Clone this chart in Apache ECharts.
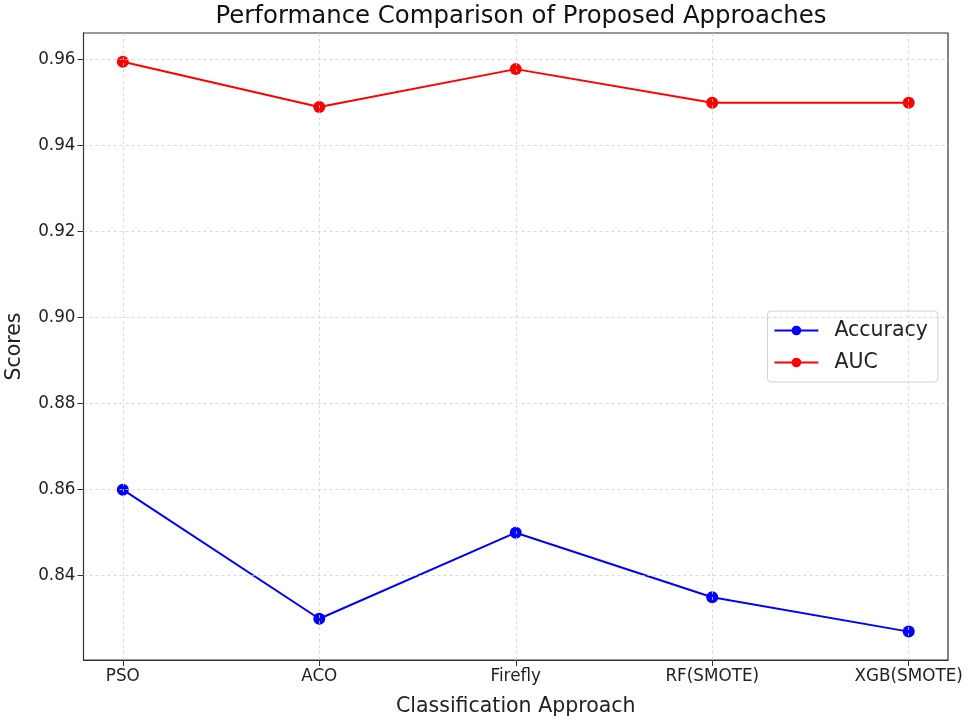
<!DOCTYPE html>
<html><head><meta charset="utf-8">
<script src="https://cdn.jsdelivr.net/npm/echarts@6/dist/echarts.min.js"></script>
<style>html,body{margin:0;padding:0;background:#fff}#c{width:968px;height:724px}</style>
</head><body><div id="c"></div>
<script>
const categories = ['PSO', 'ACO', 'Firefly', 'RF(SMOTE)', 'XGB(SMOTE)'];
const accuracy = [0.860, 0.830, 0.850, 0.835, 0.827];
const auc = [0.9595, 0.949, 0.9578, 0.950, 0.950];
const yTicks = [0.84, 0.86, 0.88, 0.90, 0.92, 0.94, 0.96];

const idx = categories.map((c, i) => i);
const font = 'DejaVu Sans';
const gridStyle = {color: '#d0d0d0', type: [3, 3], width: 0.8};

const chart = echarts.init(document.getElementById('c'));
chart.setOption({
  animation: false,
  textStyle: {fontFamily: font},
  title: {
    text: 'Performance Comparison of Proposed Approaches',
    left: 516, top: 0, textAlign: 'center',
    textStyle: {fontFamily: font, fontSize: 24.4, fontWeight: 'normal', color: '#111'}
  },
  legend: {
    right: 30, top: 311,
    orient: 'vertical',
    itemWidth: 44, itemHeight: 12, itemGap: 11,
    padding: [9, 10, 9, 6],
    borderColor: '#d0d0d0', borderWidth: 1, borderRadius: 4,
    textStyle: {fontFamily: font, fontSize: 20.5, color: '#222', padding: [0, 0, 0, 11]},
    data: ['Accuracy', 'AUC']
  },
  grid: {left: 83.5, right: 20, top: 33, bottom: 64, show: true, borderColor: '#333', borderWidth: 1.2,
         containLabel: false, outerBoundsMode: 'none'},
  xAxis: {
    type: 'value', min: -0.2, max: 4.2,
    name: 'Classification Approach', nameLocation: 'middle', nameGap: 36,
    nameTextStyle: {fontFamily: font, fontSize: 20.5, color: '#222'},
    axisLine: {show: true, onZero: false, lineStyle: {color: '#333'}},
    axisTick: {show: true, customValues: idx, length: 6, lineStyle: {color: '#333'}},
    axisLabel: {customValues: idx, formatter: v => categories[Math.round(v)], fontSize: 16.8, color: '#222', margin: 8, fontFamily: font},
    splitLine: {show: false}
  },
  yAxis: {
    type: 'value', min: 0.8204, max: 0.9662,
    name: 'Scores', nameLocation: 'middle', nameGap: 58, nameRotate: 90,
    nameTextStyle: {fontFamily: font, fontSize: 20.5, color: '#222'},
    axisLine: {show: true, onZero: false, lineStyle: {color: '#333'}},
    axisTick: {show: true, customValues: yTicks, length: 6, lineStyle: {color: '#333'}},
    axisLabel: {customValues: yTicks, formatter: v => v.toFixed(2), fontSize: 16.8, color: '#222', margin: 8, fontFamily: font},
    splitLine: {show: false}
  },
  series: [
    {
      name: 'Accuracy', type: 'line',
      data: accuracy.map((v, i) => [i, v]),
      symbol: 'circle', symbolSize: 12,
      itemStyle: {color: '#0000ff'}, lineStyle: {color: '#0000ff', width: 2},
      z: 3
    },
    {
      name: 'AUC', type: 'line',
      data: auc.map((v, i) => [i, v]),
      symbol: 'circle', symbolSize: 12,
      itemStyle: {color: '#ff0000'}, lineStyle: {color: '#ff0000', width: 2},
      z: 3
    },
    {
      name: 'grid', type: 'line', data: [], silent: true,
      markLine: {
        silent: true, symbol: 'none', animation: false,
        label: {show: false},
        lineStyle: gridStyle,
        data: idx.map(i => ({xAxis: i})).concat(yTicks.map(v => ({yAxis: v})))
      },
      z: 1
    }
  ]
});
</script></body></html>
